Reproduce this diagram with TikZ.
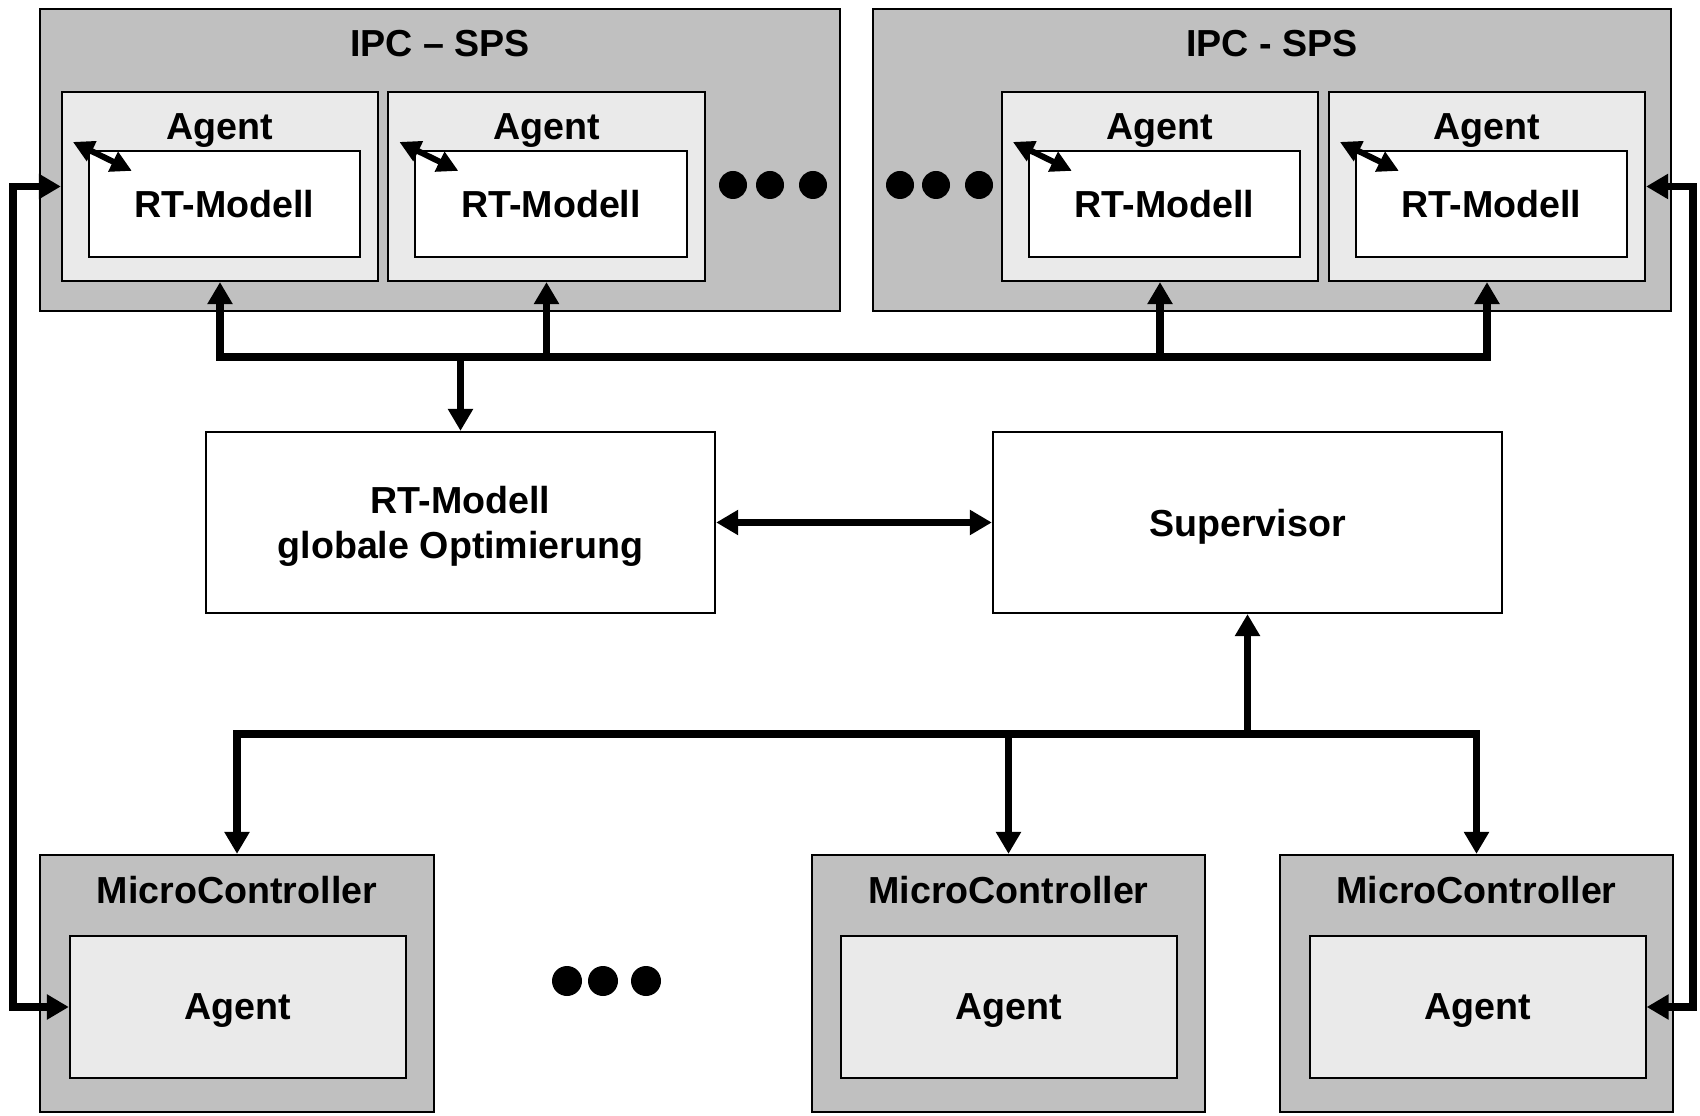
\documentclass[tikz,border=0pt]{standalone}
\usepackage{fontspec}
\setmainfont{Liberation Sans}
\usetikzlibrary{arrows.meta}
\definecolor{hostgray}{RGB}{192,192,192}
\definecolor{agentgray}{RGB}{234,234,234}

\begin{document}
\begin{tikzpicture}[
  x=0.01cm, y=-0.01cm,
  font=\fontsize{10.7}{12.8}\selectfont\bfseries,
  >={Triangle[length=0.22cm, width=0.24cm]},
  box/.style={draw, line width=0.6pt, inner sep=0pt, text depth=0pt, align=center},
  hostbox/.style={box, fill=hostgray},
  agentbox/.style={box, fill=agentgray},
  modelbox/.style={box, fill=white},
  title/.style={anchor=base, inner sep=0pt},
  bus/.style={line width=2.1pt},
  link/.style={line width=1.7pt, {Triangle[length=0.21cm, width=0.21cm]}-{Triangle[length=0.21cm, width=0.21cm]}}
]
\useasboundingbox (0,0) rectangle (1700,1116);

% IPC - SPS hosts
\node[hostbox, minimum width=8cm, minimum height=3.02cm] (ipcL) at (440,160) {};
\node[hostbox, minimum width=7.98cm, minimum height=3.02cm] (ipcR) at (1272,160) {};
\node[title] (ipcLt) at (440,57) {IPC – SPS};
\node[title] (ipcRt) at (1272,57) {IPC - SPS};

% agents with local model
\node[agentbox, minimum width=3.16cm, minimum height=1.89cm] (agA) at (220,186.5) {};
\node[agentbox, minimum width=3.17cm, minimum height=1.89cm] (agB) at (546.5,186.5) {};
\node[agentbox, minimum width=3.16cm, minimum height=1.89cm] (agC) at (1160,186.5) {};
\node[agentbox, minimum width=3.16cm, minimum height=1.89cm] (agD) at (1487,186.5) {};
\node[title] (agAt) at (220,140) {Agent};
\node[title] (agBt) at (546.5,140) {Agent};
\node[title] (agCt) at (1160,140) {Agent};
\node[title] (agDt) at (1487,140) {Agent};

\node[modelbox, minimum width=2.71cm, minimum height=1.06cm] (mA) at (224.5,204) {RT-Modell};
\node[modelbox, minimum width=2.71cm, minimum height=1.06cm] (mB) at (551,204) {RT-Modell};
\node[modelbox, minimum width=2.71cm, minimum height=1.06cm] (mC) at (1164.5,204) {RT-Modell};
\node[modelbox, minimum width=2.71cm, minimum height=1.06cm] (mD) at (1491.5,204) {RT-Modell};

\draw[link] ([shift={(-15,-8)}]mA.north west) -- ([shift={(44,21)}]mA.north west);
\draw[link] ([shift={(-15,-8)}]mB.north west) -- ([shift={(44,21)}]mB.north west);
\draw[link] ([shift={(-15,-8)}]mC.north west) -- ([shift={(44,21)}]mC.north west);
\draw[link] ([shift={(-15,-8)}]mD.north west) -- ([shift={(44,21)}]mD.north west);

% ellipses
\fill (733,185) circle[radius=14] (770,185) circle[radius=14] (813,185) circle[radius=14];
\fill (900,185) circle[radius=14] (936,185) circle[radius=14] (979,185) circle[radius=14];
\fill (567,981) circle[radius=15] (603,981) circle[radius=15] (646,981) circle[radius=15];

% global level
\node[modelbox, minimum width=5.09cm, minimum height=1.81cm] (global) at (460.5,522.5) {RT-Modell\\globale Optimierung};
\node[modelbox, minimum width=5.09cm, minimum height=1.81cm] (sup) at (1247.5,522.5) {Supervisor};

% micro controllers
\node[hostbox, minimum width=3.94cm, minimum height=2.57cm] (mcA) at (237,983.5) {};
\node[hostbox, minimum width=3.93cm, minimum height=2.57cm] (mcB) at (1008.5,983.5) {};
\node[hostbox, minimum width=3.93cm, minimum height=2.57cm] (mcC) at (1476.5,983.5) {};
\node[title] (mcAt) at (237,903) {MicroController};
\node[title] (mcBt) at (1008.5,903) {MicroController};
\node[title] (mcCt) at (1476.5,903) {MicroController};
\node[agentbox, minimum width=3.36cm, minimum height=1.42cm] (mcAin) at (238,1007) {Agent};
\node[agentbox, minimum width=3.35cm, minimum height=1.42cm] (mcBin) at (1009,1007) {Agent};
\node[agentbox, minimum width=3.35cm, minimum height=1.42cm] (mcCin) at (1478,1007) {Agent};

% busses
\coordinate (topbus) at (460.5,357);
\coordinate (botbus) at (1247.5,734);
\coordinate (railL) at (13,600);
\coordinate (railR) at (1693,600);

\draw[->, bus] (topbus) -| (agA.south);
\draw[->, bus] (topbus) -| (agD.south);
\draw[->, bus] (topbus -| agB.south) -- (agB.south);
\draw[->, bus] (topbus -| agC.south) -- (agC.south);
\draw[->, bus] (topbus) -- (global.north);

\draw[<->, bus] (global.east) -- (sup.west);

\draw[->, bus] (botbus) -- (sup.south);
\draw[->, bus] (botbus) -| (mcA.north);
\draw[->, bus] (botbus) -| (mcC.north);
\draw[->, bus] (botbus -| mcB.north) -- (mcB.north);

\draw[<->, bus] (agA.west) -| (railL) |- (mcAin.west);
\draw[<->, bus] (agD.east) -| (railR) |- (mcCin.east);
\end{tikzpicture}
\end{document}
